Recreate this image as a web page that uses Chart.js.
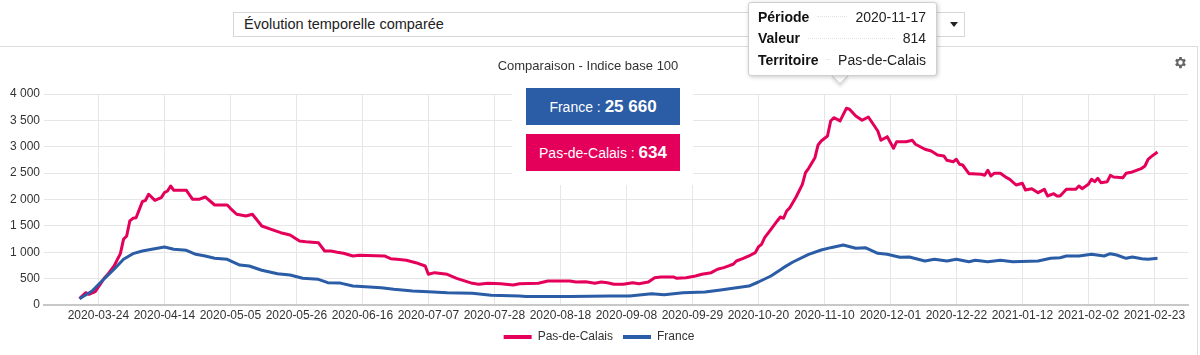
<!DOCTYPE html>
<html>
<head>
<meta charset="utf-8">
<script src="https://cdn.jsdelivr.net/npm/chart.js@4.4.1/dist/chart.umd.min.js"></script>
<style>
  html, body { margin: 0; padding: 0; }
  body { width: 1200px; height: 355px; overflow: hidden; background: #fff; position: relative;
         font-family: "Liberation Sans", Arial, sans-serif; color: #333; }
  #frame { position: absolute; left: -1px; top: 46px; width: 1198px; height: 320px;
           border-top: 1px solid #dcdcdc; border-right: 1px solid #dcdcdc; }
  #wrap { position: absolute; left: 0; top: 47px; width: 1198px; height: 308px; }
  #select { position: absolute; left: 233px; top: 12px; width: 732px; height: 25px; box-sizing: border-box;
            border: 1px solid #d6d6d6; font-size: 14.5px; line-height: 23px; padding-left: 10px; color: #222; }
  #select .arrow { position: absolute; left: 716px; top: 9px; width: 0; height: 0;
            border-left: 4px solid transparent; border-right: 4px solid transparent; border-top: 5px solid #222; }
  #title { position: absolute; left: 388px; top: 58px; width: 400px; text-align: center; font-size: 13px; color: #333; }
  #gear { position: absolute; left: 1173px; top: 55px; width: 15px; height: 15px; }
  #panel { position: absolute; left: 512px; top: 80px; width: 181px; height: 105px; background: #fff; }
  .badge { position: absolute; left: 526px; width: 154px; height: 37px; color: #fff; text-align: center;
           line-height: 37px; font-size: 14px; white-space: nowrap; }
  .badge b { font-size: 17px; }
  #bFr { top: 88px; background: #2b5ca6; }
  #bPdc { top: 134px; background: #e4005a; }
  #tip { position: absolute; left: 748px; top: 2px; width: 189px; height: 74px; box-sizing: border-box;
         background: #fff; border: 1px solid #cfcfcf; border-radius: 3px; box-shadow: 1px 1px 4px rgba(0,0,0,0.22);
         padding: 3px 10px 0 9px; font-size: 14px; color: #222; white-space: nowrap; }
  #tip .row { display: flex; align-items: center; height: 21.5px; }
  #tip .row b { color: #111; }
  #tip .dots { flex: 1; min-width: 0; border-top: 1px dotted #e2e2e2; margin: 0 8px; }
  #tipArrow { position: absolute; left: 834px; top: 70px; width: 11px; height: 11px; background: #fff;
              border-right: 1px solid #cfcfcf; border-bottom: 1px solid #cfcfcf; transform: rotate(45deg);
              box-shadow: 2px 2px 3px rgba(0,0,0,0.12); }
</style>
</head>
<body>
<div id="frame"></div>
<div id="wrap"><canvas id="c" width="1198" height="308"></canvas></div>
<div id="select">Évolution temporelle comparée<span class="arrow"></span></div>
<div id="title">Comparaison - Indice base 100</div>
<svg id="gear" viewBox="0 0 24 24"><path fill="#666" d="M19.4 13a7.5 7.5 0 0 0 0-2l2.1-1.6-2-3.5-2.5 1a7.3 7.3 0 0 0-1.7-1L14.9 3h-4l-.4 2.9a7.3 7.3 0 0 0-1.7 1l-2.5-1-2 3.5L6.4 11a7.5 7.5 0 0 0 0 2l-2.1 1.6 2 3.5 2.5-1a7.3 7.3 0 0 0 1.7 1l.4 2.9h4l.4-2.9a7.3 7.3 0 0 0 1.7-1l2.5 1 2-3.5zM12.9 15.5a3.5 3.5 0 1 1 0-7 3.5 3.5 0 0 1 0 7z" transform="translate(-0.9 0)"/></svg>
<div id="panel"></div>
<div class="badge" id="bFr">France : <b>25 660</b></div>
<div class="badge" id="bPdc">Pas-de-Calais : <b>634</b></div>
<div id="tipArrow"></div>
<div id="tip">
  <div class="row"><b>Période</b><span class="dots"></span><span>2020-11-17</span></div>
  <div class="row"><b>Valeur</b><span class="dots"></span><span>814</span></div>
  <div class="row"><b>Territoire</b><span class="dots"></span><span>Pas-de-Calais</span></div>
</div>
<script>
// Day offsets counted from 2020-03-24 (day 0)
const pdcDays = [
  -6,-4,-3,-1,2,3,5,7,8,9,
  10,11,12,14,15,16,18,20,21,22,
  23,24,28,30,32,34,37,41,42,44,
  47,49,52,55,58,61,64,66,70,72,
  74,76,78,81,83,91,93,95,98,101,
  104,105,107,111,114,116,119,121,124,128,
  132,134,140,143,150,152,155,158,160,162,
  164,167,170,172,175,177,179,183,184,187,
  190,192,195,197,199,201,202,203,205,207,
  209,210,211,212,214,216,217,218,219,220,
  222,224,225,226,228,229,230,232,233,234,
  236,238,239,241,243,245,248,249,251,253,
  254,257,259,260,263,265,267,269,270,272,
  273,274,275,277,278,281,282,283,284,285,
  287,289,290,292,294,295,297,299,301,302,
  304,305,306,308,311,312,313,315,316,317,
  318,319,321,322,323,326,327,329,332,333,
  334,335,337
];
const pdcValues = [
  120,233,203,255,518,582,740,973,1245,1308,
  1593,1644,1655,1959,1985,2099,1985,2035,2129,2161,
  2256,2174,2174,2004,2004,2048,1896,1896,1833,1720,
  1687,1720,1498,1435,1371,1327,1213,1200,1181,1024,
  1024,1000,980,929,942,929,878,866,847,802,
  739,582,613,582,506,468,411,392,411,404,
  379,404,411,455,455,436,442,411,436,423,
  392,392,423,404,436,518,531,531,506,518,
  550,582,613,677,708,753,772,834,878,929,
  992,1100,1151,1276,1435,1593,1668,1644,1782,1845,
  2048,2288,2508,2592,2793,3034,3109,3204,3489,3551,
  3489,3729,3710,3584,3502,3564,3299,3122,3191,2971,
  3096,3096,3122,3047,2952,2920,2844,2825,2743,2717,
  2762,2667,2654,2489,2489,2478,2459,2554,2446,2497,
  2497,2414,2383,2275,2307,2180,2205,2129,2193,2067,
  2110,2067,2067,2193,2193,2256,2205,2288,2383,2338,
  2402,2319,2338,2459,2427,2414,2497,2522,2592,2635,
  2762,2812,2901
];
const frDays = [
  -6,-2,2,5,8,11,14,17,21,24,
  28,31,34,37,41,45,48,52,57,61,
  65,70,73,77,81,85,90,94,100,105,
  111,119,125,134,136,150,163,169,176,180,
  186,193,198,203,207,210,214,218,221,226,
  230,233,237,241,244,248,251,255,258,263,
  266,270,273,277,279,283,287,291,299,303,
  306,308,312,316,320,322,324,327,329,332,
  334,337
];
const frValues = [
  120,265,506,677,866,973,1024,1056,1100,1056,
  1037,961,929,885,866,758,739,658,594,569,
  506,487,423,415,360,347,328,297,265,253,
  233,221,183,170,160,160,170,170,215,195,
  233,246,284,328,360,436,550,708,815,961,
  1043,1087,1138,1075,1087,980,961,905,910,834,
  866,834,866,821,847,821,847,821,834,885,
  897,929,929,961,929,973,948,885,910,878,
  866,885
];
const tickDays = [0,21,42,63,84,105,126,147,168,189,210,231,252,273,294,315,336];
const tickLabels = ['2020-03-24','2020-04-14','2020-05-05','2020-05-26','2020-06-16','2020-07-07',
  '2020-07-28','2020-08-18','2020-09-08','2020-09-29','2020-10-20','2020-11-10','2020-12-01',
  '2020-12-22','2021-01-12','2021-02-02','2021-02-23'];
const seriesNames = ['Pas-de-Calais', 'France'];

const RED = '#e4005a', BLUE = '#2b5ca6';
const FONT = '"Liberation Sans", Arial, sans-serif';
const toPts = (xs, ys) => xs.map((x, i) => ({ x: x, y: ys[i] }));
const fmt = v => String(v).replace(/\B(?=(\d{3})+(?!\d))/g, ' ');

new Chart(document.getElementById('c'), {
  type: 'line',
  data: {
    datasets: [
      { label: seriesNames[0], data: toPts(pdcDays, pdcValues), borderColor: RED, backgroundColor: RED,
        borderWidth: 3, pointRadius: 0, tension: 0, borderJoinStyle: 'round', order: 1 },
      { label: seriesNames[1], data: toPts(frDays, frValues), borderColor: BLUE, backgroundColor: BLUE,
        borderWidth: 3, pointRadius: 0, tension: 0, borderJoinStyle: 'round', order: 0 }
    ]
  },
  options: {
    responsive: false,
    animation: false,
    devicePixelRatio: 1,
    layout: { padding: { left: 10, right: 10, top: 47, bottom: 2 } },
    plugins: {
      tooltip: { enabled: false },
      title: { display: false },
      legend: {
        position: 'bottom',
        labels: {
          boxWidth: 28, boxHeight: 4, padding: 10, color: '#333',
          font: { family: FONT, size: 12 },
          generateLabels: (chart) => chart.data.datasets.map((ds, i) => ({
            text: ds.label, fillStyle: ds.borderColor, strokeStyle: ds.borderColor,
            lineWidth: 0, hidden: false, datasetIndex: i, fontColor: '#333'
          }))
        }
      }
    },
    scales: {
      x: {
        type: 'linear', min: -17.3, max: 346.7,
        afterBuildTicks: (s) => { s.ticks = tickDays.map(v => ({ value: v })); },
        afterFit: (s) => { s.height = 16; },
        ticks: {
          autoSkip: false, maxRotation: 0, padding: 5, color: '#333',
          font: { family: FONT, size: 12, lineHeight: 1 },
          callback: (v, i) => tickLabels[i]
        },
        grid: { color: '#e6e6e6', lineWidth: 1, drawTicks: false },
        border: { color: '#c8c8c8', width: 2 }
      },
      y: {
        min: 0, max: 4000,
        afterFit: (s) => { s.width = 34; },
        ticks: { stepSize: 500, padding: 4, color: '#333', font: { family: FONT, size: 12 }, callback: v => fmt(v) },
        grid: { color: '#e6e6e6', lineWidth: 1, drawTicks: false },
        border: { display: false }
      }
    }
  }
});
</script>
</body>
</html>
